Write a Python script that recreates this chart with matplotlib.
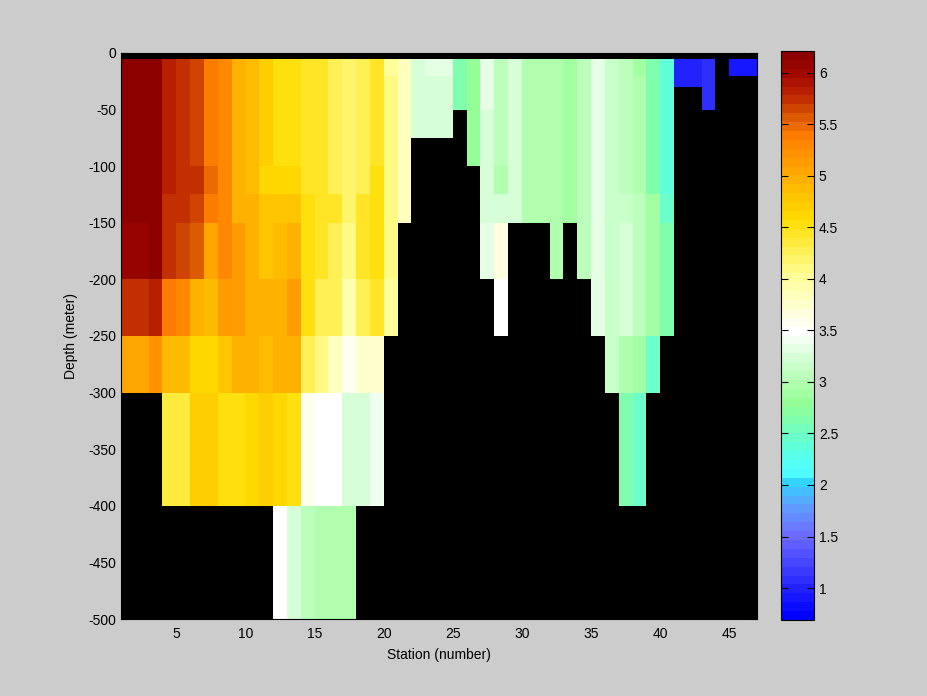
import numpy as np
import matplotlib
matplotlib.use("Agg")
import matplotlib.pyplot as plt
from matplotlib.colors import LinearSegmentedColormap
from matplotlib.ticker import FormatStrFormatter

plt.rcParams['font.family'] = ['Liberation Sans', 'DejaVu Sans']
plt.rcParams['axes.unicode_minus'] = False

N = np.nan

# station grid (cell edges) and depth levels (m)
stations = np.arange(1, 48)
depth_edges = [0, 5, 20, 30, 50, 75, 100, 125, 150, 200, 250, 300, 400, 500]

# values per depth layer, stations 1..46 (NaN = no data)
t_0_5 = [N] * 46
t_5_20 = [6.15, 6.15, 6.15, 5.82, 5.72, 5.65, 5.4, 5.3, 5.0, 4.84, 4.7, 4.55, 4.55, 4.4, 4.4, 4.27,
          4.17, 4.3, 4.4, 4.03, 3.83, 3.2, 3.3, 3.3, 2.65, 2.8, 3.3, 3.1, 3.2, 2.95, 2.95, 3.0,
          2.9, 3.1, 3.3, 3.12, 3.05, 2.85, 2.6, 2.4, 0.95, 0.95, 1.05, N, 0.88, 0.88]
t_20_30 = [6.15, 6.15, 6.15, 5.82, 5.72, 5.65, 5.4, 5.3, 5.0, 4.84, 4.7, 4.55, 4.55, 4.4, 4.4, 4.27,
           4.17, 4.3, 4.4, 4.07, 3.83, 3.2, 3.2, 3.2, 2.65, 2.8, 3.3, 3.1, 3.2, 2.95, 2.95, 3.0,
           2.9, 3.1, 3.3, 3.12, 3.05, 2.97, 2.6, 2.4, 0.95, 0.95, 1.05, N, N, N]
t_30_50 = [6.15, 6.15, 6.15, 5.82, 5.72, 5.65, 5.4, 5.3, 5.0, 4.84, 4.7, 4.55, 4.55, 4.4, 4.4, 4.27,
           4.17, 4.3, 4.4, 4.07, 3.83, 3.2, 3.2, 3.2, 2.65, 2.8, 3.3, 3.1, 3.2, 2.95, 2.95, 3.0,
           2.9, 3.1, 3.3, 3.12, 3.05, 2.97, 2.65, 2.4, N, N, 1.05, N, N, N]
t_50_75 = [6.15, 6.15, 6.15, 5.82, 5.72, 5.65, 5.4, 5.3, 5.0, 4.84, 4.7, 4.55, 4.55, 4.4, 4.4, 4.27,
           4.17, 4.3, 4.4, 4.07, 3.83, 3.2, 3.2, 3.2, N, 2.8, 3.2, 3.1, 3.2, 2.95, 2.95, 3.0,
           2.9, 3.1, 3.3, 3.12, 3.05, 2.97, 2.65, 2.4, N, N, N, N, N, N]
t_75_100 = [6.15, 6.15, 6.15, 5.82, 5.72, 5.65, 5.4, 5.3, 5.0, 4.84, 4.7, 4.55, 4.55, 4.4, 4.4, 4.27,
            4.17, 4.3, 4.4, 4.1, 3.83, N, N, N, N, 2.8, 3.2, 3.1, 3.2, 2.95, 2.95, 3.0,
            2.9, 3.1, 3.3, 3.12, 3.05, 2.97, 2.65, 2.4, N, N, N, N, N, N]
t_100_125 = [6.15, 6.15, 6.15, 5.82, 5.72, 5.72, 5.5, 5.3, 5.0, 4.84, 4.65, 4.6, 4.6, 4.45, 4.4, 4.3,
             4.2, 4.3, 4.5, 4.1, 3.83, N, N, N, N, N, 3.2, 3.0, 3.2, 2.95, 2.95, 3.0,
             2.9, 3.1, 3.3, 3.12, 3.05, 2.97, 2.65, 2.4, N, N, N, N, N, N]
t_125_150 = [6.15, 6.15, 6.15, 5.72, 5.72, 5.65, 5.4, 5.3, 5.0, 4.92, 4.8, 4.8, 4.8, 4.55, 4.45, 4.4,
             4.2, 4.4, 4.5, 4.1, 3.83, N, N, N, N, N, 3.2, 3.2, 3.2, 2.95, 2.95, 3.0,
             2.9, 3.1, 3.3, 3.12, 3.12, 3.05, 2.85, 2.5, N, N, N, N, N, N]
t_150_200 = [6.05, 6.05, 6.15, 5.72, 5.65, 5.55, 5.05, 5.3, 5.17, 4.92, 4.8, 4.9, 5.0, 4.55, 4.4, 4.3,
             4.1, 4.45, 4.55, 4.1, N, N, N, N, N, N, 3.3, 3.7, N, N, N, 3.0,
             N, 3.1, 3.3, 3.12, 3.2, 3.05, 2.9, 2.65, N, N, N, N, N, N]
t_200_250 = [5.75, 5.75, 5.82, 5.4, 5.3, 5.0, 4.84, 5.1, 5.1, 5.0, 4.92, 5.0, 5.12, 4.5, 4.3, 4.3,
             3.93, 4.25, 4.4, 4.0, N, N, N, N, N, N, N, 3.5, N, N, N, N,
             N, N, 3.3, 3.12, 3.2, 3.05, 2.9, 2.65, N, N, N, N, N, N]
t_250_300 = [5.05, 5.05, 5.2, 4.88, 4.88, 4.65, 4.65, 4.8, 4.92, 4.92, 4.84, 4.92, 4.92, 4.25, 4.1, 3.85,
             3.55, 3.75, 3.75, N, N, N, N, N, N, N, N, N, N, N, N, N,
             N, N, N, 3.12, 3.0, 2.85, 2.5, N, N, N, N, N, N, N]
t_300_400 = [N, N, N, 4.35, 4.35, 4.7, 4.7, 4.5, 4.5, 4.6, 4.7, 4.6, 4.5, 3.55, 3.45, 3.45,
             3.2, 3.27, 3.4, N, N, N, N, N, N, N, N, N, N, N, N, N,
             N, N, N, N, 2.6, 2.5, N, N, N, N, N, N, N, N]
t_400_500 = [N, N, N, N, N, N, N, N, N, N, N, 3.45, 3.27, 3.1, 3.0, 3.0,
             3.0, N, N, N, N, N, N, N, N, N, N, N, N, N, N, N,
             N, N, N, N, N, N, N, N, N, N, N, N, N, N]

layers = [t_0_5, t_5_20, t_20_30, t_30_50, t_50_75, t_75_100, t_100_125, t_125_150,
          t_150_200, t_200_250, t_250_300, t_300_400, t_400_500]
C = np.ma.masked_invalid(np.array(layers, dtype=float))

# colour map
cvals = [0.69, 1.0, 1.5, 1.8, 2.0, 2.1, 2.3, 2.6, 2.8, 3.2, 3.5, 4.0, 4.3, 4.6, 5.0, 5.4, 5.6, 5.8, 6.0, 6.21]
ccols = [(0, 0, 255), (40, 40, 255), (110, 110, 255), (90, 165, 255), (50, 210, 255), (80, 255, 255),
         (90, 255, 230), (125, 255, 175), (150, 255, 150), (210, 255, 210), (255, 255, 255),
         (255, 255, 160), (255, 240, 80), (255, 220, 0), (255, 175, 0), (255, 128, 0), (220, 90, 0),
         (190, 40, 0), (165, 10, 0), (140, 0, 0)]
vmin, vmax = cvals[0], cvals[-1]
cmap = LinearSegmentedColormap.from_list(
    "temp", [((v - vmin) / (vmax - vmin), tuple(c / 255 for c in col)) for v, col in zip(cvals, ccols)], N=64)

fig = plt.figure(figsize=(9.28, 6.96), dpi=100, facecolor=(0.8, 0.8, 0.8))
ax = fig.add_axes([0.1304, 0.1106, 0.6853, 0.8133])
ax.set_facecolor('black')
ax.set_axisbelow(True)
mesh = ax.pcolormesh(stations, -np.array(depth_edges), C, cmap=cmap, vmin=vmin, vmax=vmax)
ax.set_xlim(1, 47)
ax.set_ylim(-500, 0)
ax.set_xticks(range(5, 46, 5))
ax.set_yticks(range(-500, 1, 50))
ax.tick_params(direction='in', length=5, labelsize=10, top=True, right=True)
ax.tick_params(axis='x', pad=6)
ax.set_xlabel("Station (number)", fontsize=10, labelpad=5)
ax.set_ylabel("Depth (meter)", fontsize=10, labelpad=7)

cax = fig.add_axes([0.8416, 0.1092, 0.0356, 0.8175])
cb = fig.colorbar(mesh, cax=cax)
cb.set_ticks([1, 1.5, 2, 2.5, 3, 3.5, 4, 4.5, 5, 5.5, 6])
cb.ax.yaxis.set_major_formatter(FormatStrFormatter('%g'))
cb.ax.tick_params(direction='in', length=5, labelsize=10, left=True, right=True)
cb.outline.set_linewidth(0.8)

fig.savefig("out.png", dpi=100, facecolor=fig.get_facecolor())
